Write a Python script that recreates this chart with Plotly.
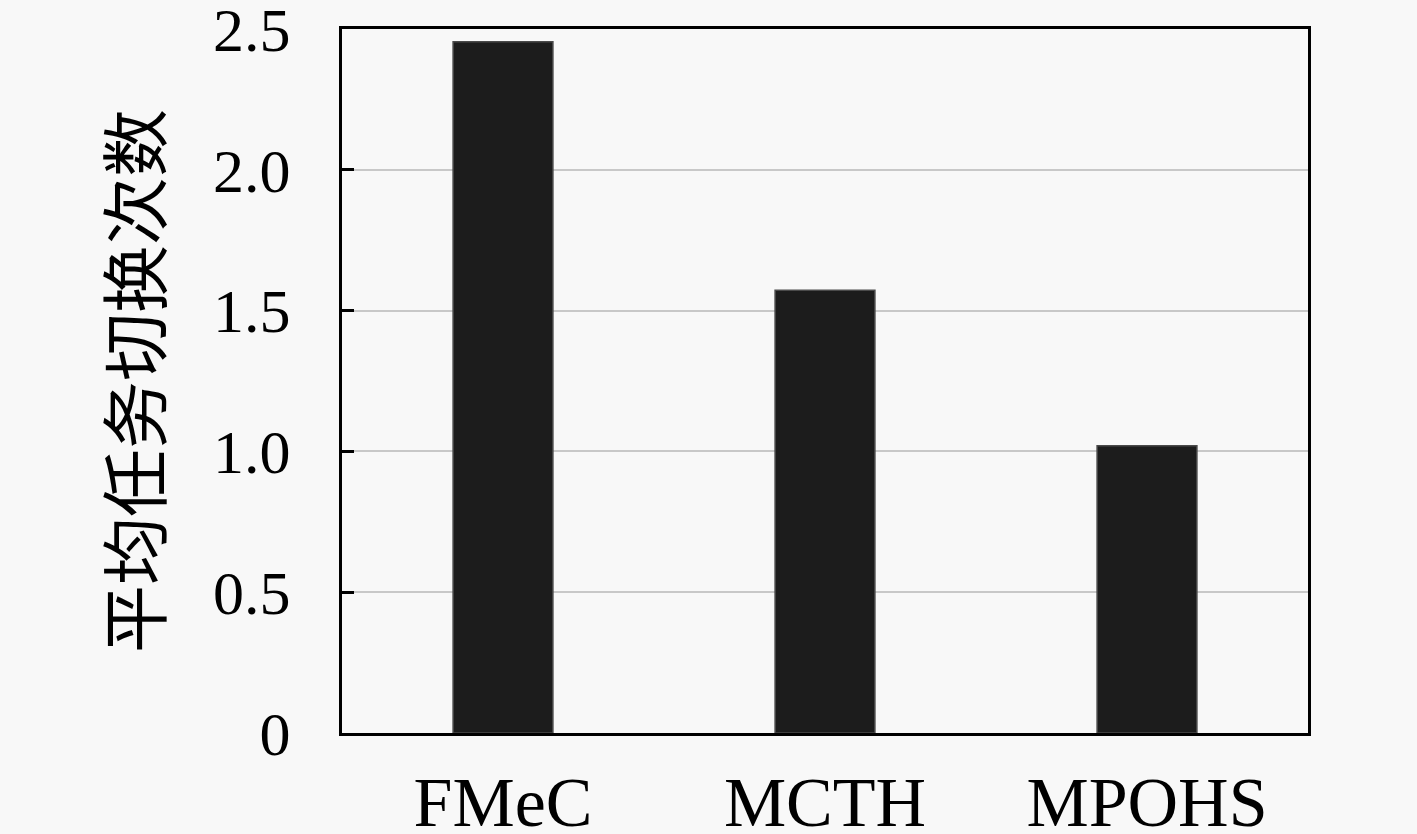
import plotly.graph_objects as go

categories = ["FMeC", "MCTH", "MPOHS"]
switch_counts = [2.455, 1.572, 1.02]
ytick_vals = [0, 0.5, 1.0, 1.5, 2.0, 2.5]
ytick_text = ["0", "0.5", "1.0", "1.5", "2.0", "2.5"]
y_title = "平均任务切换次数"

fig = go.Figure()
fig.add_trace(go.Bar(
    x=categories, y=switch_counts, width=0.31,
    marker=dict(color="#1c1c1c", line=dict(color="#4a4a4a", width=1.5)),
))

fig.update_layout(
    width=1417, height=834,
    margin=dict(l=342, r=109, t=29, b=101, autoexpand=False),
    paper_bgcolor="#f8f8f8", plot_bgcolor="#f8f8f8",
    showlegend=False,
    font=dict(family="Liberation Serif", color="#000000"),
)
fig.update_xaxes(
    range=[-0.5, 2.5], showline=True, linecolor="#000000", linewidth=3, mirror=True,
    ticks="", showgrid=False, tickfont=dict(size=70, family="Liberation Serif"),
    ticklabelstandoff=6, automargin=False,
)
fig.update_yaxes(
    range=[0, 2.5], tickvals=ytick_vals, ticktext=ytick_text,
    showline=True, linecolor="#000000", linewidth=3, mirror=True,
    ticks="inside", ticklen=12, tickwidth=3, tickcolor="#000000",
    showgrid=True, gridcolor="#c8c8c8", gridwidth=2,
    zeroline=False, automargin=False, ticklabeloverflow="allow",
    tickfont=dict(size=62, family="Liberation Serif"),
    ticklabelstandoff=36,
    title=dict(text=y_title, font=dict(size=68, family="Noto Sans CJK SC"), standoff=30),
)

fig.write_html("out.html", config={"displayModeBar": False},
               post_script="document.body.style.margin='0';")
